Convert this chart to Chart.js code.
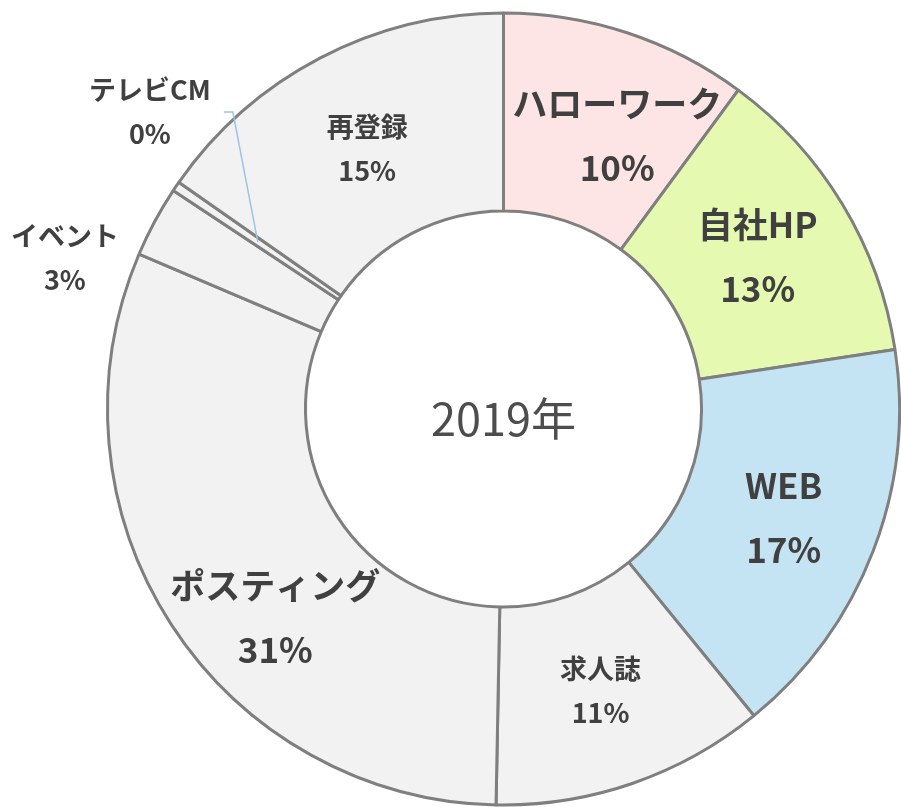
<!DOCTYPE html>
<html>
<head>
<meta charset="utf-8">
<script src="https://cdn.jsdelivr.net/npm/chart.js@4"></script>
<style>
  html, body { margin: 0; padding: 0; background: #fff; }
  #wrap { width: 901px; height: 808px; }
</style>
</head>
<body>
<div id="wrap"><canvas id="myChart"></canvas></div>
<script>
const labels = ['ハローワーク', '自社HP', 'WEB', '求人誌', 'ポスティング', 'イベント', 'テレビCM', '再登録'];
const shares = [10.1, 12.5, 16.5, 11.2, 31.1, 2.9, 0.4, 15.3];
const centerTitle = '2019年';

const colors = ['#fde5e5', '#e6f9b0', '#c5e4f3', '#f2f2f2', '#f2f2f2', '#f2f2f2', '#f2f2f2', '#f2f2f2'];
// label look: big bold for the highlighted ones
const labelBig = [true, true, true, false, true, false, false, false];
// label nudges from the arc centre point (dx, dy)
const labelShift = [[21, 9], [0, 1], [3, 2], [0, 1], [21, 47], [-177, -11], [-108, -130], [1, 3]];
const FONT = '"Noto Sans CJK JP", "Noto Sans", sans-serif';

const labelPlugin = {
  id: 'sliceLabels',
  afterDatasetsDraw(chart) {
    const ctx = chart.ctx;
    const meta = chart.getDatasetMeta(0);
    ctx.save();
    ctx.textAlign = 'center';
    ctx.textBaseline = 'middle';
    meta.data.forEach((arc, i) => {
      const p = arc.tooltipPosition();
      const x = p.x + labelShift[i][0];
      const y = p.y + labelShift[i][1];
      // leader line for the tiny slice
      if (i === 6) {
        ctx.strokeStyle = '#9dc3e6';
        ctx.lineWidth = 1.5;
        ctx.beginPath();
        ctx.moveTo(x + 74, y);
        ctx.lineTo(x + 83, y);
        ctx.lineTo(p.x, p.y);
        ctx.stroke();
      }
      const big = labelBig[i];
      const gap = big ? 32 : 22;
      ctx.fillStyle = '#404040';
      ctx.font = (big ? 'bold 35px ' : 'bold 27px ') + FONT;
      ctx.fillText(labels[i], x, y - gap);
      ctx.fillText(Math.round(shares[i]) + '%', x, y + gap);
    });
    ctx.restore();
  },
  afterDraw(chart) {
    const ctx = chart.ctx;
    const a = chart.chartArea;
    ctx.save();
    ctx.fillStyle = '#4d4d4d';
    ctx.font = '45px ' + FONT;
    ctx.textAlign = 'center';
    ctx.textBaseline = 'middle';
    ctx.fillText(centerTitle, (a.left + a.right) / 2, (a.top + a.bottom) / 2 + 10);
    ctx.restore();
  }
};

new Chart(document.getElementById('myChart'), {
  type: 'doughnut',
  data: {
    labels: labels,
    datasets: [{
      data: shares,
      backgroundColor: colors,
      borderColor: '#7f7f7f',
      borderWidth: 3
    }]
  },
  options: {
    responsive: true,
    maintainAspectRatio: false,
    animation: false,
    cutout: '50%',
    layout: { padding: { left: 106, right: 0, top: 10, bottom: 0 } },
    plugins: {
      legend: { display: false },
      tooltip: { enabled: false }
    }
  },
  plugins: [labelPlugin]
});
</script>
</body>
</html>
